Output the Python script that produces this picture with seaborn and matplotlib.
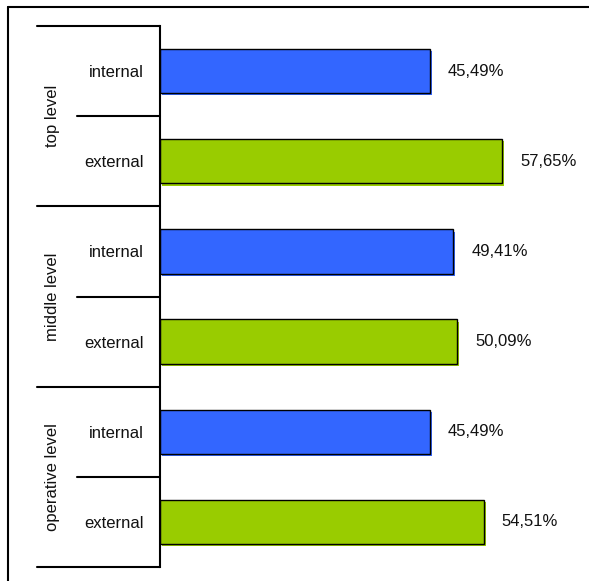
import matplotlib
matplotlib.use("Agg")
import matplotlib.pyplot as plt
import matplotlib.transforms as mtransforms
from matplotlib.lines import Line2D
import seaborn as sns
import pandas as pd

groups = ["top level", "middle level", "operative level"]
subcats = ["internal", "external"]
values = [45.49, 57.65, 49.41, 50.09, 45.49, 54.51]
value_labels = ["45,49%", "57,65%", "49,41%", "50,09%", "45,49%", "54,51%"]
colors = ["#3366FF", "#99CC00"]

rows = []
for gi, g in enumerate(groups):
    for si, s in enumerate(subcats):
        rows.append({"key": f"{g}|{s}", "group": g, "sub": s,
                     "value": values[gi * 2 + si]})
df = pd.DataFrame(rows)

sns.set_theme(style="white")
plt.rcParams["font.family"] = ["Liberation Sans", "DejaVu Sans"]

W, H = 589, 581
fig = plt.figure(figsize=(W / 100, H / 100), dpi=100)
ax_left, ax_right, ax_top, ax_bottom = 160, 580, 26, 567
ax = fig.add_axes([ax_left / W, 1 - ax_bottom / H, (ax_right - ax_left) / W,
                   (ax_bottom - ax_top) / H])

palette = {r["key"]: colors[i % 2] for i, r in enumerate(rows)}
bar_colors = [colors[i % 2] for i in range(len(values))]

# shadow bars (same data, shifted by 2 px right/down)
shadow_tr = ax.transData + mtransforms.ScaledTranslation(2.2 / 100, -2.2 / 100,
                                                         fig.dpi_scale_trans)
ax.barh(range(len(values)), values, height=0.49, color=bar_colors,
        linewidth=0, transform=shadow_tr, zorder=1)

sns.barplot(data=df, y="key", x="value", hue="key", palette=palette,
            order=list(df["key"]), hue_order=list(df["key"]), legend=False,
            orient="h", width=0.49, edgecolor="black", linewidth=1.0,
            saturation=1, ax=ax, zorder=2)

px_per_unit = 5.935
ax.set_xlim(0, (ax_right - ax_left) / px_per_unit)
ax.set_ylim(5.5, -0.5)

for i, v in enumerate(values):
    ax.text(v + 18 / px_per_unit, i, value_labels[i], va="center", ha="left",
            fontsize=12, color="#111111")

ax.set_xlabel("")
ax.set_ylabel("")
ax.set_xticks([])
ax.set_yticks(range(6))
ax.set_yticklabels([subcats[i % 2] for i in range(6)], fontsize=12, color="#111111")
ax.tick_params(axis="y", length=0, pad=12)
for s in ["top", "right", "bottom"]:
    ax.spines[s].set_visible(False)
ax.spines["left"].set_color("black")
ax.spines["left"].set_linewidth(1.5)

trans = mtransforms.blended_transform_factory(ax.transAxes, ax.transData)
axw = ax_right - ax_left
x_long = (37 - ax_left) / axw
x_short = (77 - ax_left) / axw
for yb in [-0.5, 1.5, 3.5, 5.5]:
    ax.add_line(Line2D([x_long, 0], [yb, yb], transform=trans, color="black",
                       lw=1.5, clip_on=False))
for yb in [0.5, 2.5, 4.5]:
    ax.add_line(Line2D([x_short, 0], [yb, yb], transform=trans, color="black",
                       lw=1.5, clip_on=False))
x_grp = (52 - ax_left) / axw
for gi, g in enumerate(groups):
    ax.text(x_grp, gi * 2 + 0.5, g, rotation=90, ha="center", va="center",
            fontsize=12, color="#111111", transform=trans)

# outer frame (only top and left edges visible)
fig.add_artist(Line2D([8 / W, 1.0], [1 - 7 / H, 1 - 7 / H], transform=fig.transFigure,
                      color="black", lw=1.5))
fig.add_artist(Line2D([8 / W, 8 / W], [1 - 7 / H, 0.0], transform=fig.transFigure,
                      color="black", lw=1.5))

fig.savefig("out.png", dpi=100, facecolor="white")
